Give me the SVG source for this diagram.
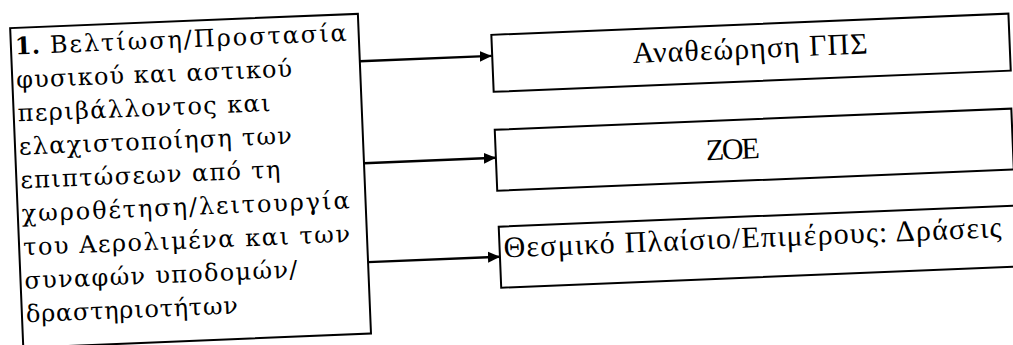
<svg xmlns="http://www.w3.org/2000/svg" width="1013" height="345" viewBox="0 0 1013 345">
  <defs>
    <style>
      .box { fill: none; stroke: #000; stroke-width: 2; }
      .conn { fill: none; stroke: #000; stroke-width: 2.4; }
      .lt { font-family: "DejaVu Serif", "Liberation Serif", serif; font-size: 24px; fill: #000; }
      .num { font-weight: bold; }
      .rt { font-family: "Liberation Serif", "DejaVu Serif", serif; font-size: 30px; fill: #000; }
    </style>
    <marker id="arrow" markerWidth="12" markerHeight="12" refX="12" refY="6" orient="auto" markerUnits="userSpaceOnUse">
      <path d="M0,0.5 L12,6 L0,11.5 Z" fill="#000"/>
    </marker>
  </defs>

  <rect width="1013" height="345" fill="#fff"/>

  <!-- whole sheet is slightly skewed; everything is drawn in a rotated frame -->
  <g transform="rotate(-2.35)">

    <!-- objective 1 -->
    <g id="objective-1">
      <rect class="box" x="9" y="28.5" width="348" height="320"/>
      <text class="lt num" x="13" y="55">1.</text>
      <text class="lt" x="48" y="55" textLength="297" lengthAdjust="spacing">Βελτίωση/Προστασία</text>
      <text class="lt" x="13" y="88.5" textLength="276" lengthAdjust="spacing">φυσικού και αστικού</text>
      <text class="lt" x="13" y="122" textLength="253" lengthAdjust="spacing">περιβάλλοντος και</text>
      <text class="lt" x="13" y="155.5" textLength="273" lengthAdjust="spacing">ελαχιστοποίηση των</text>
      <text class="lt" x="13" y="189" textLength="260" lengthAdjust="spacing">επιπτώσεων από τη</text>
      <text class="lt" x="13" y="222.5" textLength="328" lengthAdjust="spacing">χωροθέτηση/λειτουργία</text>
      <text class="lt" x="13" y="256" textLength="327" lengthAdjust="spacing">του Αερολιμένα και των</text>
      <text class="lt" x="13" y="289.5" textLength="273" lengthAdjust="spacing">συναφών υποδομών/</text>
      <text class="lt" x="13" y="323" textLength="212" lengthAdjust="spacing">δραστηριοτήτων</text>
    </g>

    <!-- connectors -->
    <g id="connectors">
      <path class="conn" d="M357,76 H489" marker-end="url(#arrow)"/>
      <path class="conn" d="M357,178 H489" marker-end="url(#arrow)"/>
      <path class="conn" d="M357,277 H489" marker-end="url(#arrow)"/>
    </g>

    <!-- actions -->
    <g id="gps-review">
      <rect class="box" x="489.5" y="55" width="517.5" height="57"/>
      <text class="rt" x="630" y="89" textLength="235" lengthAdjust="spacing">Αναθεώρηση ΓΠΣ</text>
    </g>

    <g id="zoe">
      <rect class="box" x="489" y="150" width="517" height="61"/>
      <text class="rt" x="699" y="189" textLength="54" lengthAdjust="spacing">ΖΟΕ</text>
    </g>

    <g id="framework">
      <rect class="box" x="489" y="247" width="560" height="61"/>
      <text class="rt" x="493" y="278" textLength="498" lengthAdjust="spacing">Θεσμικό Πλαίσιο/Επιμέρους: Δράσεις</text>
    </g>
  </g>
</svg>
